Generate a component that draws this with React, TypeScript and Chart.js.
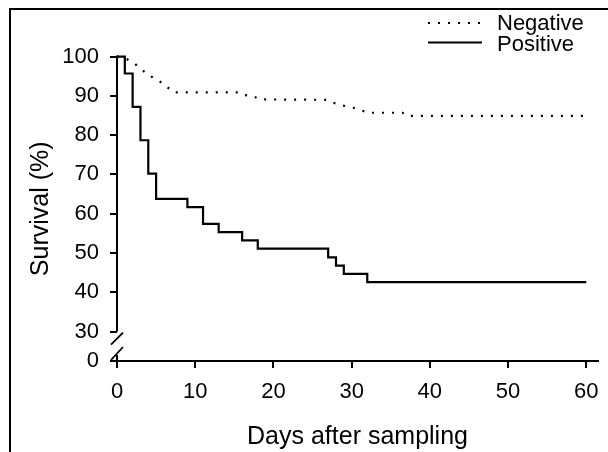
import React, { useEffect, useRef } from 'react';
import { Chart, registerables } from 'chart.js';

Chart.register(...registerables);

// ---- data ----
const xTickValues = [0, 10, 20, 30, 40, 50, 60];
const yTickValues = [30, 40, 50, 60, 70, 80, 90, 100];
const yBreakZero = 22.5; // axis position where the "0" label sits below the break

const positiveDays = [0, 1, 2, 3, 4, 5, 9, 11, 13, 16, 18, 27, 28, 29, 32, 60];
const positiveSurvival = [100, 95.7, 87.2, 78.7, 70.2, 63.8, 61.7, 57.4, 55.3, 53.2, 51.1, 48.9, 46.8, 44.7, 42.6, 42.6];

const negativeDays = [0, 1.2, 2.1, 3.2, 4.2, 5.1, 6.1, 7.2, 15.5, 16.2, 17.4, 18.2, 26.8, 27.3, 28.5, 30.6, 32.1, 36.5, 37, 60];
const negativeSurvival = [100, 99.4, 98.5, 96.6, 95.1, 94.2, 92.8, 90.9, 90.9, 90.2, 90.0, 89.1, 89.0, 88.5, 87.7, 86.8, 85.7, 85.7, 84.9, 84.9];

const seriesNames = ['Negative', 'Positive'];
const xTitle = 'Days after sampling';
const yTitle = 'Survival (%)';

const FONT = '"Liberation Sans", Arial, Helvetica, sans-serif';

const decorPlugin = {
  id: 'decor',
  afterDraw(chart: any) {
    const ctx = chart.ctx;
    const area = chart.chartArea;
    const ys = chart.scales.y;
    ctx.save();
    ctx.strokeStyle = '#000';
    ctx.fillStyle = '#000';
    // outer frame (top and left)
    ctx.lineWidth = 2;
    ctx.beginPath();
    ctx.moveTo(9, 9);
    ctx.lineTo(608, 9);
    ctx.moveTo(10, 9);
    ctx.lineTo(10, 452);
    ctx.stroke();

    // y axis with break
    const ax = area.left;
    const yTop = ys.getPixelForValue(100);
    const y30 = ys.getPixelForValue(30);
    const yz = area.bottom;
    ctx.lineWidth = 2;
    ctx.beginPath();
    ctx.moveTo(ax, yTop - 1);
    ctx.lineTo(ax, y30);
    ctx.moveTo(ax, yz - 6);
    ctx.lineTo(ax, yz + 1);
    ctx.stroke();
    ctx.lineWidth = 1.8;
    ctx.beginPath();
    ctx.moveTo(ax - 6, y30 + 13);
    ctx.lineTo(ax + 6, y30 + 1);
    ctx.moveTo(ax - 6, yz - 1);
    ctx.lineTo(ax + 6, yz - 14);
    ctx.stroke();

    // legend
    ctx.lineWidth = 2;
    ctx.setLineDash([2, 8]);
    ctx.beginPath();
    ctx.moveTo(428, 23);
    ctx.lineTo(482, 23);
    ctx.stroke();
    ctx.setLineDash([]);
    ctx.beginPath();
    ctx.moveTo(428, 42.5);
    ctx.lineTo(482, 42.5);
    ctx.stroke();
    ctx.font = '22px ' + FONT;
    ctx.textAlign = 'left';
    ctx.textBaseline = 'alphabetic';
    ctx.fillText(seriesNames[0], 497, 29.5);
    ctx.fillText(seriesNames[1], 497, 50.5);
    ctx.restore();
  },
};

export default function App() {
  const ref = useRef<HTMLCanvasElement | null>(null);

  useEffect(() => {
    if (!ref.current) return;
    const chart = new Chart(ref.current, {
      type: 'line',
      data: {
        datasets: [
          {
            label: seriesNames[0],
            data: negativeDays.map((d, i) => ({ x: d, y: negativeSurvival[i] })),
            borderColor: '#000',
            borderWidth: 2.2,
            borderDash: [2, 8],
            pointRadius: 0,
            fill: false,
            tension: 0,
            clip: false as any,
          },
          {
            label: seriesNames[1],
            data: positiveDays.map((d, i) => ({ x: d, y: positiveSurvival[i] })),
            borderColor: '#000',
            borderWidth: 2.2,
            pointRadius: 0,
            stepped: 'before',
            fill: false,
            clip: false as any,
          },
        ],
      },
      options: {
        animation: false,
        responsive: false,
        devicePixelRatio: 1,
        layout: { padding: { left: 0, top: 56.6, right: 10, bottom: 0 } },
        plugins: { legend: { display: false }, tooltip: { enabled: false } },
        scales: {
          x: {
            type: 'linear',
            min: 0,
            max: 61.5,
            afterBuildTicks: (s: any) => {
              s.ticks = xTickValues.map((v) => ({ value: v }));
            },
            afterFit: (s: any) => {
              s.height = 91;
              s.paddingLeft = 0;
              s.paddingRight = 0;
            },
            ticks: { color: '#000', font: { size: 22, family: FONT }, padding: 11, maxRotation: 0 },
            grid: { drawOnChartArea: false, drawTicks: true, tickLength: 7, color: '#000', lineWidth: 2 },
            border: { display: true, color: '#000', width: 2 },
            title: { display: true, text: xTitle, color: '#000', font: { size: 25, family: FONT }, padding: { top: 7, bottom: 0 } },
          },
          y: {
            type: 'linear',
            min: yBreakZero,
            max: 100,
            afterBuildTicks: (s: any) => {
              s.ticks = [yBreakZero, ...yTickValues].map((v) => ({ value: v }));
            },
            afterFit: (s: any) => {
              s.width = 117;
              s.paddingTop = 0;
              s.paddingBottom = 0;
            },
            ticks: {
              color: '#000',
              font: { size: 22, family: FONT },
              padding: 11,
              callback: (v: any) => (v === yBreakZero ? '0' : String(v)),
            },
            grid: { drawOnChartArea: false, drawTicks: true, tickLength: 7, color: '#000', lineWidth: 2 },
            border: { display: false },
            title: { display: true, text: yTitle, color: '#000', font: { size: 25, family: FONT }, padding: { top: 26, bottom: 0 } },
          },
        },
      } as any,
      plugins: [decorPlugin],
    });
    return () => chart.destroy();
  }, []);

  return (
    <div style={{ position: 'fixed', left: 0, top: 0, width: 608, height: 452, background: '#fff' }}>
      <canvas ref={ref} width={608} height={452} style={{ display: 'block', width: 608, height: 452 }} />
    </div>
  );
}
